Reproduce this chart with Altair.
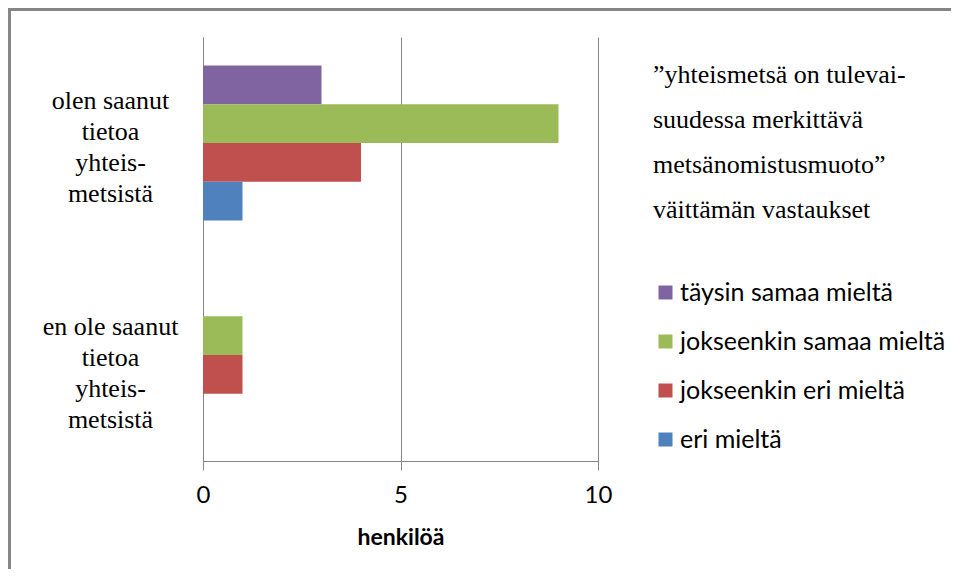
import altair as alt
import pandas as pd

categories = ["olen saanut|tietoa|yhteis-|metsistä", "en ole saanut|tietoa|yhteis-|metsistä"]
series = ["täysin samaa mieltä", "jokseenkin samaa mieltä", "jokseenkin eri mieltä", "eri mieltä"]
colors = ["#8064A2", "#9BBB59", "#C0504D", "#4F81BD"]
values_top = [3, 9, 4, 1]
values_bottom = [0, 1, 1, 0]
x_ticks = [0, 5, 10]
legend_title = ["”yhteismetsä on tulevai-", "suudessa merkittävä", "metsänomistusmuoto”", "väittämän vastaukset"]

rows = []
for s, v in zip(series, values_top):
    rows.append({"category": categories[0], "series": s, "value": v})
for s, v in zip(series, values_bottom):
    rows.append({"category": categories[1], "series": s, "value": v})
df = pd.DataFrame(rows)

W, H = 395, 424
PL, PT, PR, PB = 195, 29, 353, 108
GRAY = "#868686"

bars = alt.Chart(df).mark_bar().encode(
    x=alt.X("value:Q",
            scale=alt.Scale(domain=[0, 10], nice=False),
            axis=alt.Axis(values=x_ticks, grid=True, gridColor=GRAY, gridOpacity=1,
                          domainColor=GRAY, tickColor=GRAY, tickSize=9,
                          labelFont="Lato", labelFontSize=24, labelColor="black",
                          labelFlush=False,
                          labelPadding=13, title="henkilöä", titleFont="Lato",
                          titleFontSize=23, titleFontWeight="bold", titleColor="black",
                          titlePadding=19)),
    y=alt.Y("category:N", sort=categories,
            scale=alt.Scale(paddingInner=0.27, paddingOuter=0.135),
            axis=alt.Axis(title=None, ticks=False, grid=False, domainColor=GRAY,
                          labelFont="Liberation Serif", labelFontSize=26,
                          labelLineHeight=31, labelAlign="center", labelBaseline="middle",
                          labelPadding=93, labelColor="black", labelLimit=0,
                          labelExpr="split(datum.label, '|')",
                          labelOffset={"condition": {"test": "datum.index > 0.5", "value": -28}, "value": -42})),
    yOffset=alt.YOffset("series:N", sort=series,
                        scale=alt.Scale(paddingInner=0, paddingOuter=0)),
    color=alt.Color("series:N", sort=series,
                    scale=alt.Scale(domain=series, range=colors),
                    legend=alt.Legend(title=legend_title, titleFont="Liberation Serif",
                                      titleFontSize=26, titleFontWeight="normal",
                                      titleLineHeight=45, titleColor="black", titleLimit=0,
                                      labelFont="Lato", labelFontSize=25, labelColor="black",
                                      labelLimit=0, symbolType="square", symbolSize=196,
                                      symbolStrokeWidth=0, orient="none", legendX=450,
                                      legendY=25, rowPadding=23, titlePadding=57,
                                      symbolOffset=0, labelOffset=2, padding=0)),
)

frame_df = pd.DataFrame({"k": [0]})
top_rule = alt.Chart(frame_df).mark_rule(color=GRAY, strokeWidth=3).encode(
    x=alt.value(-PL), x2=alt.value(W + PR), y=alt.value(-PT + 1.5))
left_rule = alt.Chart(frame_df).mark_rule(color=GRAY, strokeWidth=3).encode(
    x=alt.value(-PL + 1.5), y=alt.value(-PT), y2=alt.value(H + PB))

chart = alt.layer(bars, top_rule, left_rule).properties(
    width=W, height=H,
    autosize=alt.AutoSizeParams(type="none"),
    padding={"left": PL, "top": PT, "right": PR, "bottom": PB},
).configure_view(stroke=None)

chart.save("out.html", embed_options={"renderer": "svg", "actions": False})
